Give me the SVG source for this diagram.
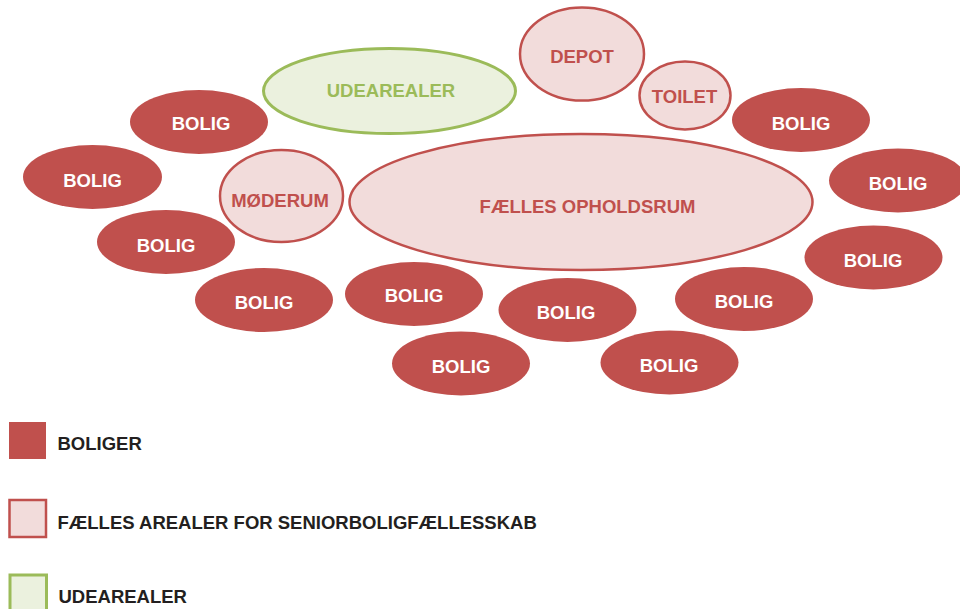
<svg xmlns="http://www.w3.org/2000/svg" width="960" height="609" viewBox="0 0 960 609">
<style>
text{font-family:"Liberation Sans",Arial,Helvetica,sans-serif;font-weight:bold;font-size:18.5px;text-anchor:middle}
.bolig ellipse{fill:#c0504d}
.bolig text{fill:#ffffff}
.faelles ellipse,.faelles rect{fill:#f2dcdb;stroke:#c0504d;stroke-width:2.5}
.faelles text{fill:#c0504d}
.ude ellipse,.ude rect{fill:#ebf1de;stroke:#9bbb59;stroke-width:3}
.ude text{fill:#9bbb59}
.legend text{fill:#231f20;text-anchor:start}
</style>
<rect width="960" height="609" fill="#ffffff"/>

<g id="udearealer" class="ude"><ellipse cx="389.5" cy="91" rx="126" ry="42.5"/><text x="391" y="97">UDEAREALER</text></g>
<g id="depot" class="faelles"><ellipse cx="582" cy="54" rx="62" ry="46.5"/><text x="582" y="63">DEPOT</text></g>
<g id="toilet" class="faelles"><ellipse cx="685" cy="95.5" rx="45.5" ry="34"/><text x="684.5" y="103">TOILET</text></g>
<g id="faelles-opholdsrum" class="faelles"><ellipse cx="581" cy="202" rx="231.5" ry="68"/><text x="587.5" y="213">FÆLLES OPHOLDSRUM</text></g>
<g id="moderum" class="faelles"><ellipse cx="281.5" cy="196" rx="61.5" ry="46"/><text x="280" y="207">MØDERUM</text></g>

<g id="bolig-1" class="bolig"><ellipse cx="199" cy="122" rx="69" ry="32"/><text x="201" y="130">BOLIG</text></g>
<g id="bolig-2" class="bolig"><ellipse cx="92.5" cy="177" rx="69.5" ry="32"/><text x="92.5" y="187">BOLIG</text></g>
<g id="bolig-3" class="bolig"><ellipse cx="166" cy="242" rx="69" ry="32"/><text x="166" y="252">BOLIG</text></g>
<g id="bolig-4" class="bolig"><ellipse cx="264" cy="300" rx="69" ry="32"/><text x="264" y="309">BOLIG</text></g>
<g id="bolig-5" class="bolig"><ellipse cx="414" cy="294" rx="69" ry="32"/><text x="414" y="302">BOLIG</text></g>
<g id="bolig-6" class="bolig"><ellipse cx="461" cy="363.5" rx="69" ry="32"/><text x="461" y="373">BOLIG</text></g>
<g id="bolig-7" class="bolig"><ellipse cx="567.5" cy="310" rx="69" ry="32"/><text x="566" y="319">BOLIG</text></g>
<g id="bolig-8" class="bolig"><ellipse cx="669.5" cy="362.5" rx="69" ry="32"/><text x="669" y="372">BOLIG</text></g>
<g id="bolig-9" class="bolig"><ellipse cx="744" cy="299" rx="69" ry="32"/><text x="744" y="308">BOLIG</text></g>
<g id="bolig-10" class="bolig"><ellipse cx="873.5" cy="257.5" rx="69" ry="32"/><text x="873" y="267">BOLIG</text></g>
<g id="bolig-11" class="bolig"><ellipse cx="898" cy="180.5" rx="69" ry="32"/><text x="898" y="190">BOLIG</text></g>
<g id="bolig-12" class="bolig"><ellipse cx="801" cy="120" rx="69" ry="32"/><text x="801" y="130">BOLIG</text></g>

<g id="legend" class="legend">
<g id="legend-boliger"><rect x="9" y="422" width="37" height="37" fill="#c0504d"/><text x="57.5" y="450">BOLIGER</text></g>
<g id="legend-faelles" class="faelles"><rect x="9.5" y="500" width="36.5" height="37"/><text x="57.5" y="529" style="fill:#231f20;text-anchor:start">FÆLLES AREALER FOR SENIORBOLIGFÆLLESSKAB</text></g>
<g id="legend-ude" class="ude"><rect x="10" y="575" width="36.5" height="40"/><text x="58.5" y="603" style="fill:#231f20;text-anchor:start">UDEAREALER</text></g>
</g>
</svg>
